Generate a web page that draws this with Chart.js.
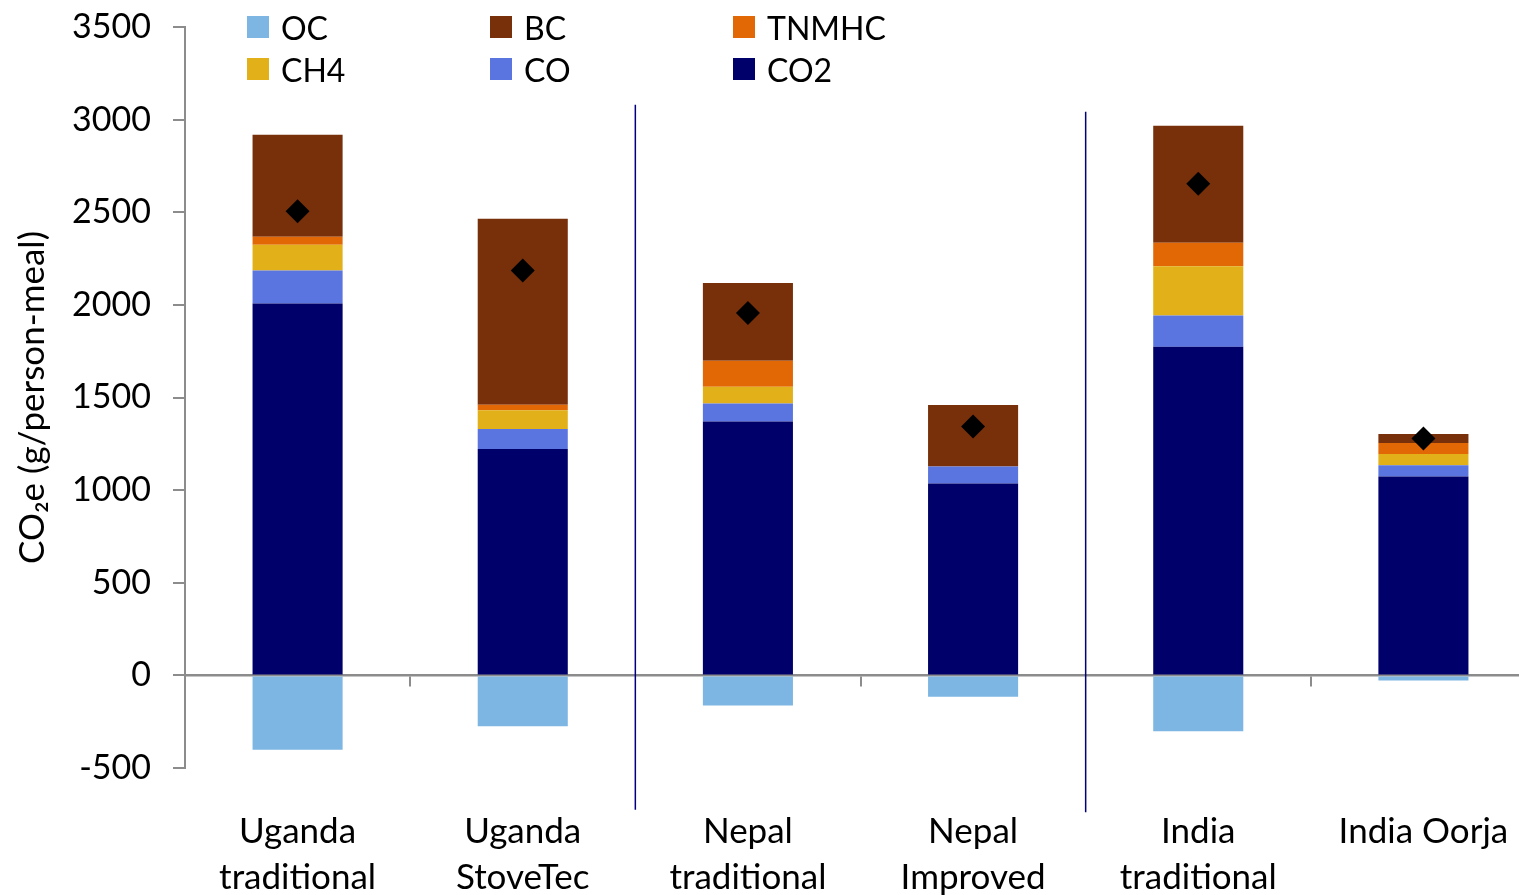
<!DOCTYPE html>
<html>
<head>
<meta charset="utf-8">
<script src="https://cdn.jsdelivr.net/npm/chart.js@4/dist/chart.umd.min.js"></script>
<style>
  html, body { margin: 0; padding: 0; background: #fff; overflow: hidden; }
  #wrap { position: relative; width: 1548px; height: 920px; }
  #chart { display: block; }
  #legend {
    position: absolute; left: 247px; top: 6px;
    display: grid; grid-template-columns: 243px 243px 243px; grid-auto-rows: 42px;
    font-family: Lato, "Noto Sans", sans-serif; font-size: 32px; color: #000;
  }
  .item { display: flex; align-items: center; white-space: nowrap; }
  .swatch { width: 22px; height: 22px; margin-right: 12px; flex: none; }
</style>
</head>
<body>
<div id="wrap">
  <canvas id="chart" width="1548" height="920"></canvas>
  <div id="legend"></div>
</div>
<script>
// Stove types
const categories = [
  ['Uganda', 'traditional'],
  ['Uganda', 'StoveTec'],
  ['Nepal', 'traditional'],
  ['Nepal', 'Improved'],
  ['India', 'traditional'],
  'India Oorja'
];

// CO2-equivalent per pollutant, g/person-meal
const co2   = [2008, 1222, 1371, 1036, 1774, 1074];
const co    = [178, 108, 97, 91, 168, 60];
const ch4   = [139, 101, 90, 0, 266, 61];
const tnmhc = [43, 30, 141, 0, 128, 59];
const bc    = [550, 1004, 419, 333, 631, 49];
const oc    = [-401, -275, -163, -116, -302, -27];

// Net total (diamonds)
const net = [2505, 2185, 1956, 1343, 2654, 1279];

// Y axis ticks
const yMin = -500, yMax = 3500, yStep = 500;

// Region dividers: placed after category index, spanning the given values
const dividers = [
  { after: 1, from: 3080, to: -725 },
  { after: 3, from: 3043, to: -739 }
];

const colors = {
  OC: '#7db6e2', BC: '#78300a', TNMHC: '#e26705',
  CH4: '#e2b018', CO: '#5a75e0', CO2: '#00006b'
};

// Legend order (3 columns, 2 rows)
const legendOrder = ['OC', 'BC', 'TNMHC', 'CH4', 'CO', 'CO2'];

const FONT = 'Lato, "Noto Sans", sans-serif';

function barSet(label, data) {
  return {
    type: 'bar', label, data,
    backgroundColor: colors[label], borderWidth: 0,
    barPercentage: 0.8, categoryPercentage: 0.5,
    stack: 'emissions'
  };
}

// Keep the plot area fixed: no automatic label overhang padding
function noPad(s) {
  s.paddingTop = 0; s.paddingBottom = 0; s.paddingLeft = 0; s.paddingRight = 0;
}

const dividerPlugin = {
  id: 'dividers',
  afterDatasetsDraw(chart) {
    const { ctx, scales: { x, y } } = chart;
    ctx.save();
    ctx.strokeStyle = '#000080';
    ctx.lineWidth = 1.5;
    dividers.forEach(d => {
      const px = (x.getPixelForValue(d.after) + x.getPixelForValue(d.after + 1)) / 2;
      ctx.beginPath();
      ctx.moveTo(px, y.getPixelForValue(d.from));
      ctx.lineTo(px, y.getPixelForValue(d.to));
      ctx.stroke();
    });
    ctx.restore();
  }
};

const chart = new Chart(document.getElementById('chart'), {
  data: {
    labels: categories,
    datasets: [
      {
        type: 'line', label: 'Net', data: net, stack: 'net',
        showLine: false, pointStyle: 'rectRot', pointRadius: 12,
        pointBackgroundColor: '#000', pointBorderWidth: 0, pointHoverRadius: 12
      },
      barSet('CO2', co2),
      barSet('CO', co),
      barSet('CH4', ch4),
      barSet('TNMHC', tnmhc),
      barSet('BC', bc),
      barSet('OC', oc)
    ]
  },
  options: {
    responsive: false,
    devicePixelRatio: 1,
    animation: false,
    layout: { padding: { top: 27, right: 1, left: 0, bottom: 0 } },
    plugins: { legend: { display: false }, tooltip: { enabled: false } },
    scales: {
      x: {
        type: 'category', stacked: true, offset: true,
        grid: { display: false }, border: { display: false },
        ticks: {
          color: '#000', padding: 32, maxRotation: 0, autoSkip: false,
          font: { family: FONT, size: 35, lineHeight: 1.33 }
        },
        afterFit(s) { s.height = 152; noPad(s); }
      },
      zero: {
        type: 'category', axis: 'x', position: { y: 0 }, offset: true,
        grid: {
          offset: true, drawOnChartArea: false, tickLength: 10, lineWidth: 2,
          color: c => (c.index % 2 === 1 ? '#8c8c8c' : 'rgba(0,0,0,0)')
        },
        border: { display: true, color: '#8c8c8c', width: 2.5 },
        ticks: { display: false },
        afterFit(s) { noPad(s); }
      },
      y: {
        stacked: true, min: yMin, max: yMax,
        ticks: {
          stepSize: yStep, color: '#000', padding: 22,
          font: { family: FONT, size: 34 },
          callback: v => String(v)
        },
        grid: { drawOnChartArea: false, tickLength: 12, color: '#8c8c8c', lineWidth: 2 },
        border: { color: '#8c8c8c', width: 2 },
        title: {
          display: true, text: 'CO\u2082e (g/person-meal)', color: '#000',
          font: { family: FONT, size: 35 }, padding: { top: 12, bottom: 0 }
        },
        afterFit(s) { s.width = 185; noPad(s); }
      }
    }
  },
  plugins: [dividerPlugin]
});

// Legend built from the datasets
const legendEl = document.getElementById('legend');
legendOrder.forEach(name => {
  const item = document.createElement('div');
  item.className = 'item';
  const sw = document.createElement('span');
  sw.className = 'swatch';
  sw.style.background = colors[name];
  const tx = document.createElement('span');
  tx.textContent = name;
  item.appendChild(sw);
  item.appendChild(tx);
  legendEl.appendChild(item);
});
</script>
</body>
</html>
